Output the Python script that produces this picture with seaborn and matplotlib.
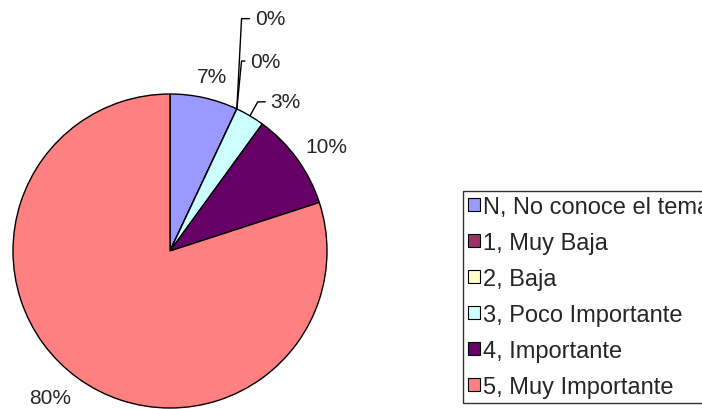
import numpy as np
import matplotlib
matplotlib.use("Agg")
import matplotlib.pyplot as plt
from matplotlib.patches import Patch
import seaborn as sns

categories = ["N, No conoce el tema", "1, Muy Baja", "2, Baja",
              "3, Poco Importante", "4, Importante", "5, Muy Importante"]
values = [7, 0, 0, 3, 10, 80]
pct_labels = ["7%", "0%", "0%", "3%", "10%", "80%"]
colors = ["#9999FF", "#993366", "#FFFFCC", "#CCFFFF", "#660066", "#FF8080"]

sns.set_style("white")
plt.rcParams["font.family"] = ["Liberation Sans", "DejaVu Sans"]
palette = sns.color_palette(colors)

W, H = 702, 410
fig = plt.figure(figsize=(W / 100, H / 100), dpi=100)
ax = fig.add_axes([0, 0, 1, 1])

cx, cy, r = 170, 252, 157
wedges, _ = ax.pie(values, colors=palette, startangle=90, counterclock=False,
                   radius=1, center=(0, 0),
                   wedgeprops=dict(edgecolor="black", linewidth=1.0))
ax.set_aspect("equal")
ax.set_xlim(-cx / r, (W - cx) / r)
ax.set_ylim(-(H - cy) / r, cy / r)
ax.axis("off")

fs = 15
total = sum(values)
cum = np.cumsum([0] + values)
# label placement offsets for small slices (leader lines)
leader = {1: (1.48, 0.54), 2: (1.21, 0.51), 3: (0.95, 0.64)}
for i, (v, lab) in enumerate(zip(values, pct_labels)):
    mid = 90 - (cum[i] + v / 2) / total * 360
    a = np.deg2rad(mid)
    ex, ey = np.cos(a), np.sin(a)
    if i in leader:
        ly, lx = leader[i]
        elbow_x = ex + (0.05 if i == 3 else 0.03)
        ax.plot([ex, elbow_x, lx - 0.03], [ey, ly, ly], color="black",
                lw=1.0, solid_capstyle="butt", clip_on=False)
        ax.text(lx, ly, lab, fontsize=fs, ha="left", va="center")
    else:
        if v > 50:
            rr, dx = 1.15, -0.09
        elif v >= 10:
            rr, dx = 1.13, 0.08
        else:
            rr, dx = 1.14, 0.02
        ax.text(ex * rr + dx, ey * rr, lab, fontsize=fs, ha="center", va="center")

lfs = 17
handles = [Patch(facecolor=c, edgecolor="black", linewidth=0.8) for c in palette]
leg = fig.legend(handles, categories, loc="upper left",
                 bbox_to_anchor=(463 / W, 1 - 192 / H),
                 fontsize=lfs, frameon=True, fancybox=False, edgecolor="black",
                 handlelength=0.48, handleheight=0.48, handletextpad=0.15,
                 labelspacing=0.59, borderpad=0.22, borderaxespad=0)
leg.get_frame().set_linewidth(1.0)

fig.savefig("out.png", dpi=100)
